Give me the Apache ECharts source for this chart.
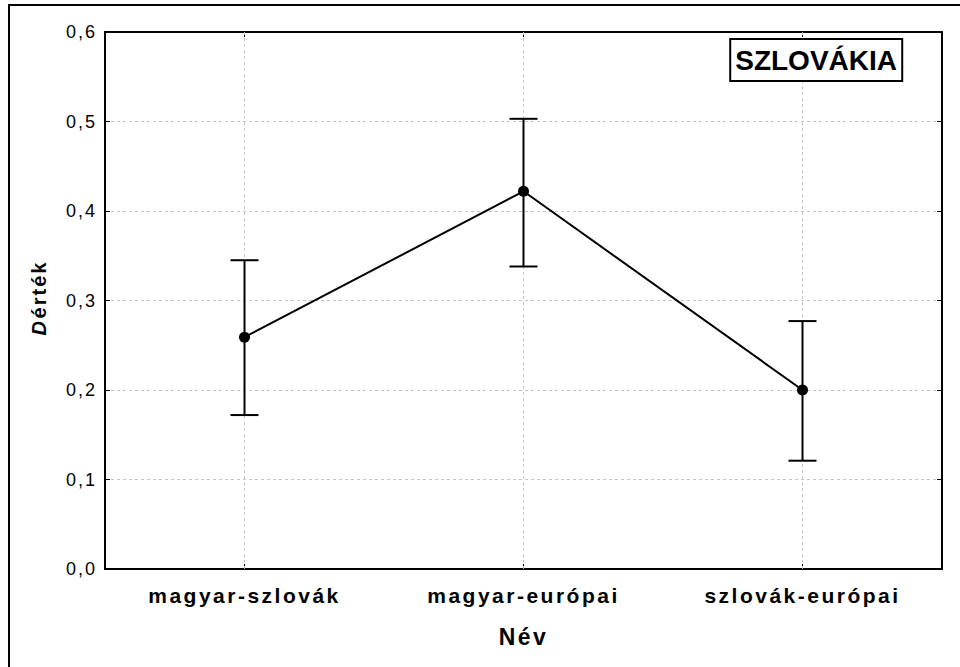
<!DOCTYPE html>
<html>
<head>
<meta charset="utf-8">
<script src="https://cdn.jsdelivr.net/npm/echarts@6/dist/echarts.min.js"></script>
<style>
	html, body { margin: 0; padding: 0; background: #fff; }
	#chart { width: 960px; height: 667px; }
	/* the original labels are drawn wide, spread the letters a bit */
	#chart text[fill="#010101"] { letter-spacing: 2.5px; }
	#chart text[fill="#020202"] { letter-spacing: 2px; }
	#chart text[fill="#030303"] { letter-spacing: 2.5px; }
	#chart text[fill="#040404"] { letter-spacing: 2px; }
</style>
</head>
<body>
<div id="chart"></div>
<script>
// kategóriák és értékek
var categories = ['magyar-szlovák', 'magyar-európai', 'szlovák-európai'];
var meanValues = [0.259, 0.422, 0.200];
var lowerValues = [0.172, 0.338, 0.121];
var upperValues = [0.345, 0.503, 0.277];

var yMin = 0;
var yMax = 0.6;
var yStep = 0.1;

var fontFamily = '"Liberation Sans", Arial, sans-serif';

var errorData = categories.map(function (c, i) {
	return [i, lowerValues[i], upperValues[i]];
});

function renderErrorBar(params, api) {
	var lo = api.coord([api.value(0), api.value(1)]);
	var hi = api.coord([api.value(0), api.value(2)]);
	var half = 14;
	var style = { stroke: '#000', lineWidth: 2 };
	return {
		type: 'group',
		children: [
			{ type: 'line', shape: { x1: hi[0], y1: hi[1], x2: lo[0], y2: lo[1] }, style: style },
			{ type: 'line', shape: { x1: hi[0] - half, y1: hi[1], x2: hi[0] + half, y2: hi[1] }, style: style },
			{ type: 'line', shape: { x1: lo[0] - half, y1: lo[1], x2: lo[0] + half, y2: lo[1] }, style: style }
		]
	};
}

var gridLine = { show: true, lineStyle: { color: '#c4c4c4', type: [3, 3], width: 1 } };
var frameLine = { show: true, onZero: false, lineStyle: { color: '#000', width: 2 } };

var myChart = echarts.init(document.getElementById('chart'), null, { renderer: 'svg' });

var option = {
	animation: false,
	backgroundColor: '#fff',
	title: {
		text: 'SZLOVÁKIA',
		right: 58,
		top: 39,
		padding: [7, 5],
		borderColor: '#000',
		borderWidth: 2,
		backgroundColor: '#fff',
		textStyle: { fontFamily: fontFamily, fontSize: 28, fontWeight: 'bold', color: '#000' }
	},
	graphic: [{
		type: 'rect',
		silent: true,
		shape: { x: 9, y: 5, width: 1200, height: 1000 },
		style: { fill: 'none', stroke: '#000', lineWidth: 2 }
	}],
	grid: {
		left: 105,
		right: 18,
		top: 32,
		bottom: 98,
		containLabel: false,
		outerBoundsMode: 'none'
	},
	xAxis: [{
		type: 'category',
		data: categories,
		position: 'bottom',
		name: 'Név',
		nameLocation: 'middle',
		nameGap: 56,
		nameTextStyle: { fontFamily: fontFamily, fontSize: 23, fontWeight: 'bold', color: '#030303' },
		axisLine: frameLine,
		axisTick: { show: true, inside: true, alignWithLabel: true, length: 5, lineStyle: { color: '#000', width: 1 } },
		axisLabel: { margin: 16, fontFamily: fontFamily, fontSize: 21, fontWeight: 'bold', color: '#010101' },
		splitLine: { show: false }
	}, {
		type: 'category',
		data: categories,
		position: 'top',
		axisLine: frameLine,
		axisTick: { show: true, inside: true, alignWithLabel: true, length: 5, lineStyle: { color: '#000', width: 1 } },
		axisLabel: { show: false },
		splitLine: { show: false }
	}],
	yAxis: [{
		type: 'value',
		min: yMin,
		max: yMax,
		interval: yStep,
		position: 'left',
		name: '{i|D} érték',
		nameLocation: 'middle',
		nameRotate: 90,
		nameGap: 56,
		nameTextStyle: {
			fontFamily: fontFamily, fontSize: 20, fontWeight: 'bold', color: '#040404',
			rich: {
				i: { fontFamily: fontFamily, fontSize: 20, fontWeight: 'bold', fontStyle: 'italic', color: '#040404' }
			}
		},
		axisLine: frameLine,
		axisTick: { show: true, inside: true, length: 5, lineStyle: { color: '#000', width: 1 } },
		axisLabel: {
			margin: 8,
			fontFamily: fontFamily,
			fontSize: 18,
			color: '#020202',
			formatter: function (v) { return v.toFixed(1).replace('.', ','); }
		},
		splitLine: gridLine
	}, {
		type: 'value',
		min: yMin,
		max: yMax,
		interval: yStep,
		position: 'right',
		axisLine: frameLine,
		axisTick: { show: true, inside: true, length: 5, lineStyle: { color: '#000', width: 1 } },
		axisLabel: { show: false },
		splitLine: { show: false }
	}],
	series: [{
		type: 'custom',
		name: 'hiba',
		renderItem: renderErrorBar,
		data: errorData,
		encode: { x: 0, y: [1, 2] },
		z: 3
	}, {
		type: 'line',
		name: 'D érték',
		data: meanValues,
		symbol: 'circle',
		symbolSize: 11,
		lineStyle: { color: '#000', width: 2 },
		itemStyle: { color: '#000' },
		z: 4,
		markLine: {
			silent: true,
			symbol: ['none', 'none'],
			label: { show: false },
			lineStyle: { color: '#c4c4c4', type: [3, 3], width: 1 },
			data: categories.map(function (c) { return { xAxis: c }; }),
			z: 1
		}
	}]
};

myChart.setOption(option);
</script>
</body>
</html>
